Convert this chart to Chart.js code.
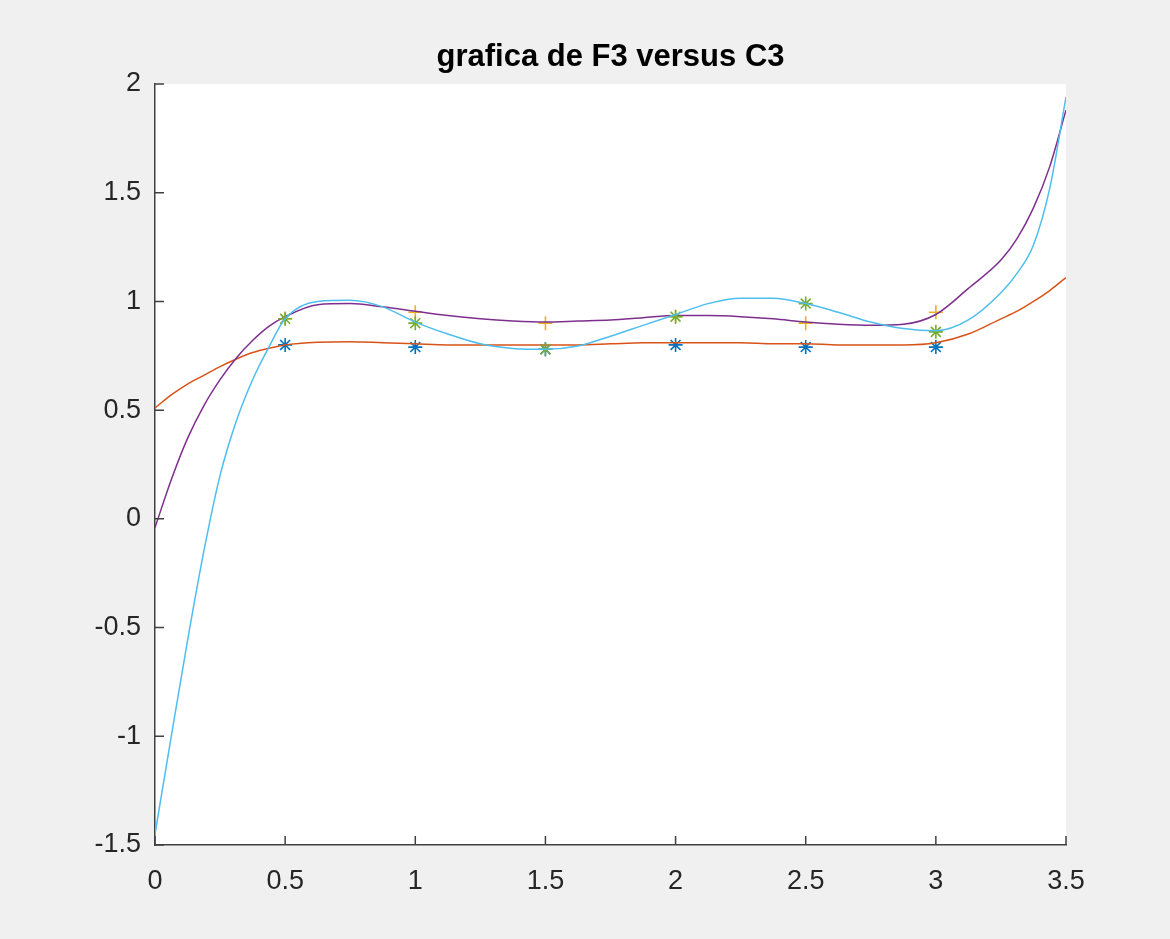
<!DOCTYPE html>
<html>
<head>
<meta charset="utf-8">
<script src="https://cdn.jsdelivr.net/npm/chart.js@4.4.1/dist/chart.umd.min.js"></script>
<style>
  html, body { margin: 0; padding: 0; background: #f0f0f0; }
  canvas { display: block; }
</style>
</head>
<body>
<canvas id="c" width="1170" height="939"></canvas>
<script>
// ---- data ----
const titleText = 'grafica de F3 versus C3';
const xTicks = [0, 0.5, 1, 1.5, 2, 2.5, 3, 3.5];
const yTicks = [-1.5, -1, -0.5, 0, 0.5, 1, 1.5, 2];

// measured points
const markerX = [0.5, 1, 1.5, 2, 2.5, 3];
const blueStars = [0.80, 0.79, 0.78, 0.80, 0.79, 0.79];
const yellowPlus = [0.92, 0.95, 0.90, 0.93, 0.90, 0.95];
const greenStars = [0.92, 0.90, 0.78, 0.93, 0.99, 0.86];

// fitted curves
const curveX = [0, 0.0625, 0.125, 0.1875, 0.25, 0.3125, 0.375, 0.4375, 0.5, 0.625, 0.75, 0.875, 1.0, 1.125,
                1.25, 1.375, 1.5, 1.625, 1.75, 1.875, 2.0, 2.125, 2.25, 2.375, 2.5, 2.625, 2.75, 2.875,
                3.0, 3.125, 3.25, 3.3125, 3.375, 3.4375, 3.5];
const orangeCurve = [0.51, 0.57, 0.62, 0.66, 0.70, 0.735, 0.765, 0.785, 0.80, 0.812, 0.815, 0.81, 0.805, 0.80,
                     0.80, 0.80, 0.80, 0.80, 0.805, 0.81, 0.81, 0.81, 0.81, 0.805, 0.805, 0.80, 0.80, 0.80,
                     0.81, 0.85, 0.92, 0.955, 1.00, 1.05, 1.11];
const purpleCurve = [-0.04, 0.18, 0.37, 0.52, 0.64, 0.74, 0.82, 0.885, 0.93, 0.985, 0.99, 0.975, 0.955, 0.935,
                     0.92, 0.91, 0.905, 0.91, 0.915, 0.925, 0.935, 0.935, 0.93, 0.92, 0.905, 0.895, 0.89, 0.895,
                     0.94, 1.06, 1.19, 1.29, 1.43, 1.62, 1.88];
const lightBlueCurve = [-1.45, -1.0, -0.56, -0.15, 0.20, 0.45, 0.64, 0.79, 0.92, 1.0, 1.005, 0.975, 0.905, 0.85,
                        0.805, 0.784, 0.78, 0.795, 0.84, 0.89, 0.94, 0.99, 1.015, 1.015, 0.99, 0.95, 0.905, 0.875,
                        0.865, 0.915, 1.04, 1.13, 1.26, 1.52, 1.94];

const pairs = (xs, ys) => xs.map((x, i) => ({ x: x, y: ys[i] }));

const axisColor = '#404040';
const tickFont = { family: '"Liberation Sans", Arial, sans-serif', size: 27 };

const bgPlugin = {
  id: 'bgPlugin',
  beforeDraw(chart) {
    const { ctx, chartArea: a } = chart;
    ctx.save();
    ctx.fillStyle = '#f0f0f0';
    ctx.fillRect(0, 0, chart.width, chart.height);
    ctx.fillStyle = '#ffffff';
    ctx.fillRect(a.left, a.top, a.right - a.left, a.bottom - a.top);
    ctx.restore();
  }
};

const inwardTicks = {
  id: 'inwardTicks',
  afterDraw(chart) {
    const { ctx, chartArea: a } = chart;
    const xs = chart.scales.x, ys = chart.scales.y;
    ctx.save();
    ctx.strokeStyle = axisColor;
    ctx.lineWidth = 1.5;
    ctx.beginPath();
    xTicks.forEach(v => {
      const px = xs.getPixelForValue(v);
      ctx.moveTo(px, a.bottom);
      ctx.lineTo(px, a.bottom - 9);
    });
    yTicks.forEach(v => {
      const py = ys.getPixelForValue(v);
      ctx.moveTo(a.left, py);
      ctx.lineTo(a.left + 9, py);
    });
    ctx.stroke();
    ctx.restore();
  }
};

const markerSet = (label, ys, color, style, order) => ({
  label, data: pairs(markerX, ys), showLine: false,
  pointStyle: style, pointRadius: 7, pointBorderWidth: 1.6,
  borderColor: color, backgroundColor: color, order
});
const curveSet = (label, ys, color, order) => ({
  label, data: pairs(curveX, ys), showLine: true, pointRadius: 0,
  borderColor: color, borderWidth: 1.5, cubicInterpolationMode: 'monotone', fill: false, order
});

new Chart(document.getElementById('c'), {
  type: 'scatter',
  data: {
    datasets: [
      markerSet('datos 1', blueStars, '#0072BD', 'star', 6),
      curveSet('ajuste 1', orangeCurve, '#D95319', 5),
      markerSet('datos 2', yellowPlus, '#EDB120', 'cross', 4),
      curveSet('ajuste 2', purpleCurve, '#7E2F8E', 3),
      markerSet('datos 3', greenStars, '#77AC30', 'star', 2),
      curveSet('ajuste 3', lightBlueCurve, '#4DBEEE', 1)
    ]
  },
  options: {
    responsive: false,
    animation: false,
    layout: { padding: { left: 0, right: 104, top: 0, bottom: 0 } },
    plugins: {
      legend: { display: false },
      tooltip: { enabled: false },
      title: {
        display: true, text: titleText, color: '#000000', fullSize: false,
        font: { family: '"Liberation Sans", Arial, sans-serif', size: 31, weight: 'bold', lineHeight: 1.0 },
        padding: { top: 42, bottom: 11 }
      }
    },
    scales: {
      x: {
        type: 'linear', min: 0, max: 3.5,
        afterBuildTicks: s => { s.ticks = xTicks.map(v => ({ value: v })); },
        afterFit: s => { s.height = 94; },
        grid: { display: false, drawTicks: false },
        border: { display: true, color: axisColor, width: 1.5 },
        ticks: { color: '#262626', font: tickFont, padding: 20, maxRotation: 0, callback: v => String(v) }
      },
      y: {
        type: 'linear', min: -1.5, max: 2,
        afterBuildTicks: s => { s.ticks = yTicks.map(v => ({ value: v })); },
        afterFit: s => { s.width = 155; },
        grid: { display: false, drawTicks: false },
        border: { display: true, color: axisColor, width: 1.5 },
        ticks: { color: '#262626', font: tickFont, padding: 14, callback: v => String(v) }
      }
    }
  },
  plugins: [bgPlugin, inwardTicks]
});
</script>
</body>
</html>
